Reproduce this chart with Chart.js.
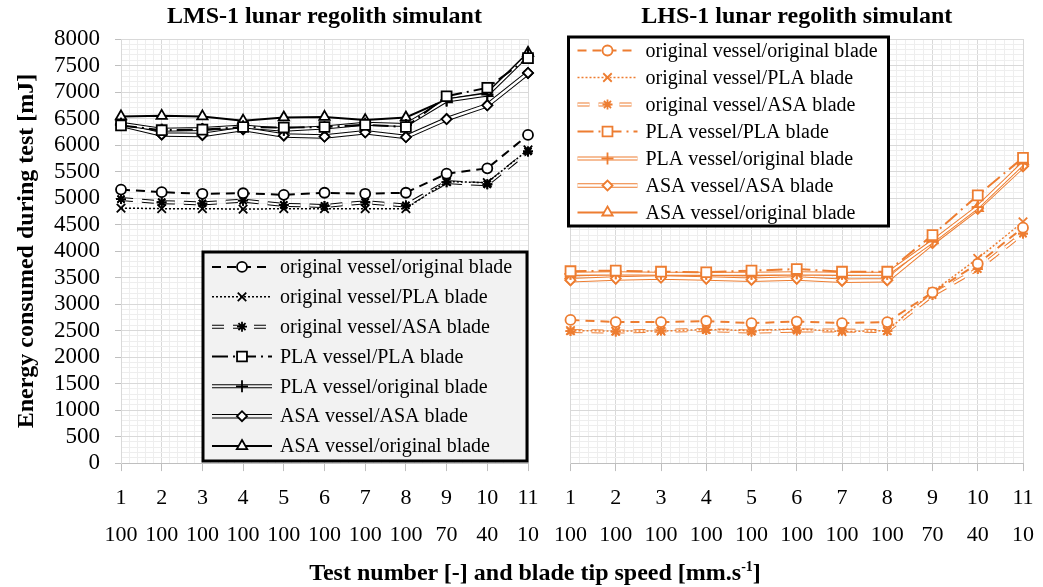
<!DOCTYPE html>
<html>
<head>
<meta charset="utf-8">
<script src="https://cdn.jsdelivr.net/npm/chart.js@4.4.1/dist/chart.umd.min.js"></script>
<style>
  body { margin: 0; background: #fff; width: 1043px; height: 587px; position: relative; overflow: hidden; font-family: "Liberation Serif", "Times New Roman", "DejaVu Serif", serif; }
  #lmsBox { position: absolute; left: 0; top: 0; width: 548px; height: 565px; }
  #lhsBox { position: absolute; left: 545px; top: 0; width: 498px; height: 565px; }
  #xTitle { position: absolute; left: 0; top: 557px; width: 1070px; text-align: center; font-weight: bold; font-size: 24px; line-height: 30px; }
  #xTitle sup { font-size: 14px; line-height: 0; }
</style>
</head>
<body>
<div id="lmsBox"><canvas id="lmsChart"></canvas></div>
<div id="lhsBox"><canvas id="lhsChart"></canvas></div>
<div id="xTitle">Test number [-] and blade tip speed [mm.s<sup>-1</sup>]</div>
<script>
// test number and blade tip speed [mm/s]
const testNumbers = [1, 2, 3, 4, 5, 6, 7, 8, 9, 10, 11];
const tipSpeeds = [100, 100, 100, 100, 100, 100, 100, 100, 70, 40, 10];

const seriesNames = [
  'original vessel/original blade',
  'original vessel/PLA blade',
  'original vessel/ASA blade',
  'PLA vessel/PLA blade',
  'PLA vessel/original blade',
  'ASA vessel/ASA blade',
  'ASA vessel/original blade'
];

// LMS-1 energy [mJ]
const lmsOrigOrig = [5160, 5110, 5080, 5090, 5060, 5100, 5080, 5100, 5460, 5560, 6190];
const lmsOrigPla  = [4810, 4800, 4800, 4790, 4800, 4800, 4800, 4800, 5310, 5290, 5910];
const lmsOrigAsa  = [4980, 4920, 4900, 4950, 4870, 4850, 4920, 4860, 5300, 5260, 5880];
const lmsPlaPla   = [6370, 6280, 6290, 6340, 6330, 6340, 6380, 6340, 6920, 7080, 7640];
const lmsPlaOrig  = [6400, 6290, 6300, 6350, 6290, 6330, 6400, 6380, 6840, 6950, 7700];
const lmsAsaAsa   = [6380, 6200, 6190, 6300, 6180, 6160, 6240, 6150, 6490, 6750, 7360];
const lmsAsaOrig  = [6540, 6550, 6540, 6460, 6520, 6530, 6470, 6520, 6860, 6980, 7740];

// LHS-1 energy [mJ]
const lhsOrigOrig = [2700, 2660, 2660, 2680, 2640, 2670, 2640, 2660, 3220, 3760, 4440];
const lhsOrigPla  = [2500, 2490, 2490, 2520, 2500, 2530, 2480, 2500, 3230, 3860, 4550];
const lhsOrigAsa  = [2490, 2480, 2500, 2510, 2480, 2500, 2500, 2490, 3170, 3660, 4330];
const lhsPlaPla   = [3620, 3630, 3610, 3600, 3630, 3660, 3610, 3610, 4300, 5050, 5760];
const lhsPlaOrig  = [3570, 3580, 3570, 3570, 3570, 3580, 3570, 3570, 4180, 4830, 5650];
const lhsAsaAsa   = [3450, 3480, 3500, 3480, 3460, 3480, 3440, 3450, 4150, 4800, 5600];
const lhsAsaOrig  = [3540, 3560, 3560, 3550, 3540, 3560, 3550, 3560, 4200, 4810, 5690];

// line / marker look of each series
const seriesStyles = [
  { borderWidth: 2, borderDash: [9, 6], pointStyle: 'circle', pointRadius: 5, fill: true },
  { borderWidth: 1.5, borderDash: [2, 2], pointStyle: 'crossRot', pointRadius: 6 },
  { borderWidth: 4, borderDash: [12, 9], pointStyle: 'star', pointRadius: 5, double: true },
  { borderWidth: 2, borderDash: [16, 5, 2, 5], pointStyle: 'rect', pointRadius: 7, fill: true },
  { borderWidth: 4, borderDash: [], pointStyle: 'cross', pointRadius: 6, double: true },
  { borderWidth: 4.5, borderDash: [], pointStyle: 'rectRot', pointRadius: 5, fill: true, double: true },
  { borderWidth: 2, borderDash: [], pointStyle: 'triangle', pointRadius: 6, fill: true }
];

const isWhole = v => Math.abs(v - Math.round(v)) < 1e-6;
const serif = '"Liberation Serif", "Times New Roman", "DejaVu Serif", serif';

// draws the white core of the "double" lines, then puts markers back on top
const doubleLine = {
  id: 'doubleLine',
  afterDatasetDraw(chart, args) {
    const ds = chart.data.datasets[args.index];
    if (!ds.double) return;
    const ctx = chart.ctx;
    const pts = args.meta.data;
    ctx.save();
    ctx.strokeStyle = '#fff';
    ctx.lineWidth = ds.borderWidth - 2;
    ctx.setLineDash(ds.borderDash);
    ctx.beginPath();
    pts.forEach((p, i) => i ? ctx.lineTo(p.x, p.y) : ctx.moveTo(p.x, p.y));
    ctx.stroke();
    ctx.restore();
    pts.forEach(p => p.draw(ctx, chart.chartArea));
  }
};

const panelTitle = {
  id: 'panelTitle',
  afterDraw(chart, args, opts) {
    const { ctx, chartArea } = chart;
    ctx.save();
    ctx.font = 'bold 24px ' + serif;
    ctx.fillStyle = '#000';
    ctx.textAlign = 'center';
    ctx.textBaseline = 'middle';
    ctx.fillText(opts.text, (chartArea.left + chartArea.right) / 2, 17);
    ctx.restore();
  }
};

// Excel-like legend box sitting inside the plot area
const boxLegend = {
  id: 'boxLegend',
  afterDraw(chart, args, opts) {
    const { ctx, chartArea } = chart;
    const x0 = chartArea.left + opts.dx;
    const y0 = chartArea.top + opts.dy;
    ctx.save();
    ctx.fillStyle = opts.background;
    ctx.fillRect(x0, y0, opts.width, opts.height);
    ctx.lineWidth = 3;
    ctx.strokeStyle = '#000';
    ctx.setLineDash([]);
    ctx.strokeRect(x0, y0, opts.width, opts.height);
    const rowH = opts.height / chart.data.datasets.length;
    chart.data.datasets.forEach((ds, i) => {
      const cy = y0 + rowH * (i + 0.5);
      const lx = x0 + 9, rx = x0 + 69, mx = x0 + 39;
      ctx.strokeStyle = ds.borderColor;
      ctx.lineWidth = ds.borderWidth;
      ctx.setLineDash(ds.borderDash);
      ctx.beginPath(); ctx.moveTo(lx, cy); ctx.lineTo(rx, cy); ctx.stroke();
      if (ds.double) {
        ctx.strokeStyle = opts.background;
        ctx.lineWidth = ds.borderWidth - 2;
        ctx.beginPath(); ctx.moveTo(lx, cy); ctx.lineTo(rx, cy); ctx.stroke();
      }
      ctx.setLineDash([]);
      ctx.fillStyle = ds.pointBackgroundColor;
      ctx.strokeStyle = ds.borderColor;
      ctx.lineWidth = ds.pointBorderWidth;
      Chart.helpers.drawPoint(ctx, { pointStyle: ds.pointStyle, radius: ds.pointRadius, borderWidth: ds.pointBorderWidth, rotation: 0 }, mx, cy);
      ctx.fillStyle = '#000';
      ctx.font = '20px ' + serif;
      ctx.textAlign = 'left';
      ctx.textBaseline = 'middle';
      ctx.fillText(ds.label, x0 + 77, cy + 1);
    });
    ctx.restore();
  }
};

function buildDatasets(seriesValues, color) {
  return seriesValues.map((values, i) => {
    const st = seriesStyles[i];
    return {
      label: seriesNames[i],
      data: values.map((v, k) => ({ x: testNumbers[k], y: v })),
      borderColor: color,
      borderWidth: st.borderWidth,
      borderDash: st.borderDash,
      double: !!st.double,
      pointStyle: st.pointStyle,
      pointRadius: st.pointRadius,
      pointHoverRadius: st.pointRadius,
      pointBorderWidth: 1.8,
      pointBorderColor: color,
      pointBackgroundColor: st.fill ? '#fff' : color,
      tension: 0,
      clip: false
    };
  });
}

function makeChart(canvasId, title, seriesValues, color, legendOpts, showYAxis, pad) {
  const ctx = document.getElementById(canvasId).getContext('2d');
  return new Chart(ctx, {
    type: 'line',
    data: { datasets: buildDatasets(seriesValues, color) },
    options: {
      responsive: true,
      maintainAspectRatio: false,
      animation: false,
      layout: { padding: pad },
      plugins: {
        legend: { display: false },
        tooltip: { enabled: false },
        panelTitle: { text: title },
        boxLegend: legendOpts
      },
      scales: {
        x: {
          type: 'linear',
          min: 1,
          max: 11,
          ticks: {
            stepSize: 0.2,
            autoSkip: false,
            maxRotation: 0,
            padding: 9,
            color: '#000',
            font: { family: serif, size: 22, lineHeight: 1.68 },
            callback: v => isWhole(v) ? [String(Math.round(v)), String(tipSpeeds[Math.round(v) - 1])] : ''
          },
          grid: {
            color: c => isWhole(c.tick.value) ? '#d9d9d9' : '#eeeeee',
            tickColor: c => isWhole(c.tick.value) ? '#bfbfbf' : 'rgba(0,0,0,0)',
            tickLength: 8
          },
          border: { color: '#bfbfbf' }
        },
        y: {
          min: 0,
          max: 8000,
          ticks: {
            display: showYAxis,
            stepSize: 100,
            autoSkip: false,
            padding: 15,
            color: '#000',
            font: { family: serif, size: 23 },
            callback: v => v % 500 === 0 ? String(v) : ''
          },
          grid: {
            color: c => c.tick.value % 500 === 0 ? '#d9d9d9' : '#eeeeee',
            tickColor: c => (showYAxis && c.tick.value % 500 === 0) ? '#bfbfbf' : 'rgba(0,0,0,0)',
            tickLength: 6
          },
          border: { color: '#d9d9d9' },
          title: {
            display: showYAxis,
            text: 'Energy consumed during test [mJ]',
            color: '#000',
            font: { family: serif, size: 24, weight: 'bold' },
            padding: { top: 12, bottom: 0 }
          },
          afterFit: s => { s.width = showYAxis ? 121 : 0; }
        }
      }
    },
    plugins: [doubleLine, panelTitle, boxLegend]
  });
}

makeChart('lmsChart', 'LMS-1 lunar regolith simulant',
  [lmsOrigOrig, lmsOrigPla, lmsOrigAsa, lmsPlaPla, lmsPlaOrig, lmsAsaAsa, lmsAsaOrig],
  '#000000',
  { dx: 82, dy: 213, width: 324, height: 209, background: '#f2f2f2' },
  true,
  { top: 39, right: 14, bottom: 2, left: 0 });

makeChart('lhsChart', 'LHS-1 lunar regolith simulant',
  [lhsOrigOrig, lhsOrigPla, lhsOrigAsa, lhsPlaPla, lhsPlaOrig, lhsAsaAsa, lhsAsaOrig],
  '#ED7D31',
  { dx: -2, dy: -2, width: 320, height: 189, background: '#ffffff' },
  false,
  { top: 39, right: 20, bottom: 2, left: 24 });
</script>
</body>
</html>
